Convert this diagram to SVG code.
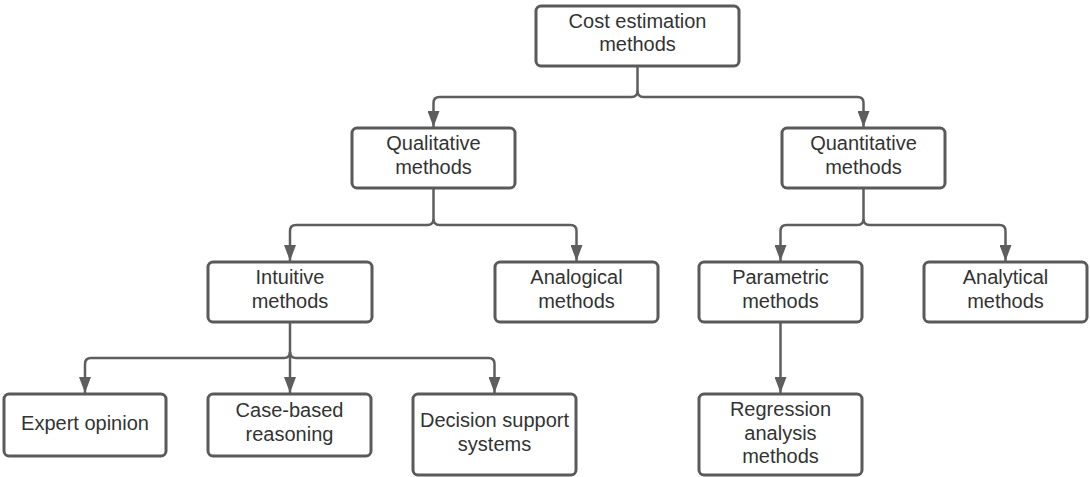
<svg xmlns="http://www.w3.org/2000/svg" width="1090" height="477" viewBox="0 0 1090 477">
<style>
.box{fill:#fff;stroke:#5a5a5a;stroke-width:3}
.lbl{font-family:"Liberation Sans",Arial,sans-serif;font-size:20px;fill:#333;text-anchor:middle}
.con{fill:none;stroke:#5e5e5e;stroke-width:2.5;stroke-linejoin:round}
</style>
<defs>
<marker id="arr" markerUnits="userSpaceOnUse" viewBox="0 0 16 12" refX="16" refY="6" markerWidth="16" markerHeight="12" orient="auto">
<path d="M0,0 L16,6 L0,12 Z" fill="#5e5e5e"/>
</marker>
</defs>
<rect width="1090" height="477" fill="#fff"/>
<g id="connectors">
<path class="con" d="M637.5,66 V91 Q637.5,97 631.5,97 H439.5 Q433.5,97 433.5,103 V127" marker-end="url(#arr)"/>
<path class="con" d="M637.5,91 Q637.5,97 643.5,97 H857.5 Q863.5,97 863.5,103 V127" marker-end="url(#arr)"/>
<path class="con" d="M433.5,188 V219 Q433.5,225 427.5,225 H296 Q290,225 290,231 V261" marker-end="url(#arr)"/>
<path class="con" d="M433.5,219 Q433.5,225 439.5,225 H570.5 Q576.5,225 576.5,231 V261" marker-end="url(#arr)"/>
<path class="con" d="M863.5,188 V219 Q863.5,225 857.5,225 H786.5 Q780.5,225 780.5,231 V261" marker-end="url(#arr)"/>
<path class="con" d="M863.5,219 Q863.5,225 869.5,225 H999.5 Q1005.5,225 1005.5,231 V261" marker-end="url(#arr)"/>
<path class="con" d="M290,322 V352 Q290,358 284,358 H91 Q85,358 85,364 V393" marker-end="url(#arr)"/>
<path class="con" d="M290,352 V393" marker-end="url(#arr)"/>
<path class="con" d="M290,352 Q290,358 296,358 H488.5 Q494.5,358 494.5,364 V393" marker-end="url(#arr)"/>
<path class="con" d="M780.5,322 V393" marker-end="url(#arr)"/>
</g>
<g id="root"><rect class="box" x="536" y="6" width="203" height="60" rx="5"/>
<text class="lbl" x="637.5" y="27.5">Cost estimation</text><text class="lbl" x="637.5" y="51">methods</text></g>
<g id="qualitative"><rect class="box" x="352" y="128" width="163" height="60" rx="5"/>
<text class="lbl" x="433.5" y="150">Qualitative</text><text class="lbl" x="433.5" y="173.5">methods</text></g>
<g id="quantitative"><rect class="box" x="782" y="128" width="163" height="60" rx="5"/>
<text class="lbl" x="863.5" y="150">Quantitative</text><text class="lbl" x="863.5" y="173.5">methods</text></g>
<g id="intuitive"><rect class="box" x="208" y="262" width="164" height="60" rx="5"/>
<text class="lbl" x="290" y="284">Intuitive</text><text class="lbl" x="290" y="307.5">methods</text></g>
<g id="analogical"><rect class="box" x="495" y="262" width="163" height="60" rx="5"/>
<text class="lbl" x="576.5" y="284">Analogical</text><text class="lbl" x="576.5" y="307.5">methods</text></g>
<g id="parametric"><rect class="box" x="699" y="262" width="163" height="60" rx="5"/>
<text class="lbl" x="780.5" y="284">Parametric</text><text class="lbl" x="780.5" y="307.5">methods</text></g>
<g id="analytical"><rect class="box" x="924" y="262" width="163" height="60" rx="5"/>
<text class="lbl" x="1005.5" y="284">Analytical</text><text class="lbl" x="1005.5" y="307.5">methods</text></g>
<g id="expert"><rect class="box" x="4" y="394" width="162" height="62" rx="5"/>
<text class="lbl" x="85" y="429.5">Expert opinion</text></g>
<g id="casebased"><rect class="box" x="208" y="394" width="163" height="62" rx="5"/>
<text class="lbl" x="289.5" y="417">Case-based</text><text class="lbl" x="289.5" y="440.5">reasoning</text></g>
<g id="decision"><rect class="box" x="413" y="394" width="163" height="81" rx="5"/>
<text class="lbl" x="494.5" y="427">Decision support</text><text class="lbl" x="494.5" y="450.5">systems</text></g>
<g id="regression"><rect class="box" x="699" y="394" width="163" height="81" rx="5"/>
<text class="lbl" x="780.5" y="416">Regression</text><text class="lbl" x="780.5" y="439.5">analysis</text><text class="lbl" x="780.5" y="463">methods</text></g>
</svg>
